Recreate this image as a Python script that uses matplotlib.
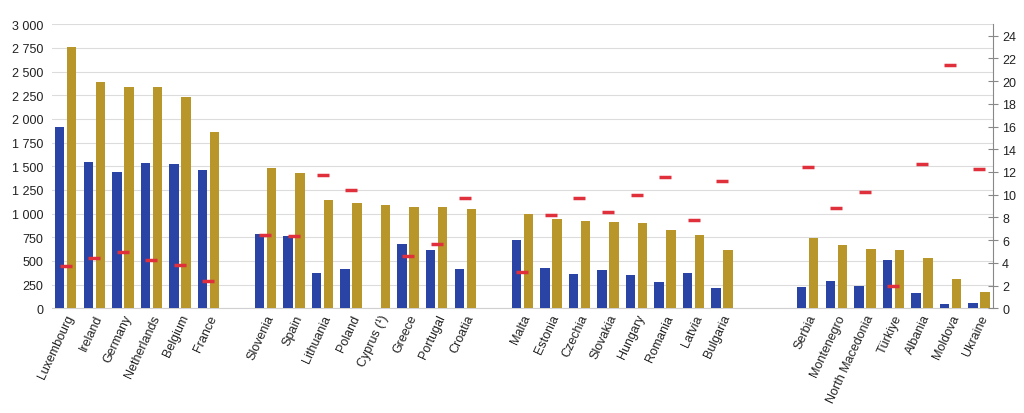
import matplotlib
matplotlib.use('Agg')
import matplotlib.pyplot as plt
import numpy as np

plt.rcParams['font.family'] = ['Liberation Sans', 'DejaVu Sans']

# groups of countries, separated by empty slots
group1 = ['Luxembourg', 'Ireland', 'Germany', 'Netherlands', 'Belgium', 'France']
group2 = ['Slovenia', 'Spain', 'Lithuania', 'Poland', 'Cyprus (¹)', 'Greece', 'Portugal', 'Croatia']
group3 = ['Malta', 'Estonia', 'Czechia', 'Slovakia', 'Hungary', 'Romania', 'Latvia', 'Bulgaria']
group4 = ['Serbia', 'Montenegro', 'North Macedonia', 'Türkiye', 'Albania', 'Moldova', 'Ukraine']

blue_vals = [1919, 1542, 1440, 1532, 1528, 1461,
             789, 764, 377, 415, np.nan, 676, 620, 415,
             725, 430, 363, 401, 349, 275, 370, 215,
             229, 285, 232, 514, 158, 46, 53]
gold_vals = [2764, 2387, 2338, 2335, 2229, 1866,
             1479, 1426, 1148, 1116, 1088, 1070, 1070, 1049,
             996, 944, 923, 912, 905, 824, 778, 620,
             743, 669, 627, 620, 532, 310, 169]
red_vals = [3.7, 4.46, 4.96, 4.25, 3.84, 2.41,
            6.46, 6.40, 11.74, 10.39, np.nan, 4.58, 5.63, 9.74,
            3.17, 8.19, 9.71, 8.51, 9.98, 11.59, 7.75, 11.18,
            12.41, 8.80, 10.21, 1.94, 12.73, 21.39, 12.29]

labels = group1 + group2 + group3 + group4
gaps = [0, 1, 1, 2]  # empty slots before each group
pos = []
x = 0
for g, gap in zip([group1, group2, group3, group4], gaps):
    x += gap
    for _ in g:
        pos.append(x)
        x += 1
pos = np.array(pos, dtype=float)

BLUE = '#2a44a6'
GOLD = '#b8962a'
RED = '#e0303c'

fig = plt.figure(figsize=(10.24, 4.14), dpi=100)
ax = fig.add_axes([0.0508, 0.2529, 0.9697 - 0.0508, 0.9389 - 0.2529])

ax.bar(pos - 0.21, blue_vals, width=0.33, color=BLUE, zorder=3)
ax.bar(pos + 0.21, gold_vals, width=0.33, color=GOLD, zorder=3)

ax.set_ylim(0, 3000)
ax.set_xlim(-0.48, pos[-1] + 0.49)
ax.set_yticks(np.arange(0, 3001, 250))
ax.set_yticklabels([f'{v:,}'.replace(',', ' ') for v in range(0, 3001, 250)], fontsize=9, color='#222222')
ax.grid(axis='y', color='#dcdcdc', linewidth=0.8, zorder=0)
ax.set_axisbelow(True)
for s in ['top', 'left', 'right']:
    ax.spines[s].set_visible(False)
ax.spines['bottom'].set_color('#d0d0d0')
ax.tick_params(axis='y', length=0, pad=6)
ax.tick_params(axis='x', length=0, pad=3)
ax.set_xticks(pos)
ax.set_xticklabels(labels, rotation=65, ha='right', rotation_mode='anchor', fontsize=9, color='#222222')

ax2 = ax.twinx()
ax2.set_ylim(0, 25)
ax2.set_yticks(np.arange(0, 25, 2))
ax2.plot(pos, red_vals, linestyle='none', marker='_', markersize=8, markeredgewidth=2.5, color=RED, zorder=5)
for s in ['top', 'left', 'bottom']:
    ax2.spines[s].set_visible(False)
ax2.spines['right'].set_color('#888888')
ax2.tick_params(axis='y', direction='inout', length=7, color='#888888', labelsize=9, labelcolor='#222222', pad=3)

fig.savefig('out.png', dpi=100)
